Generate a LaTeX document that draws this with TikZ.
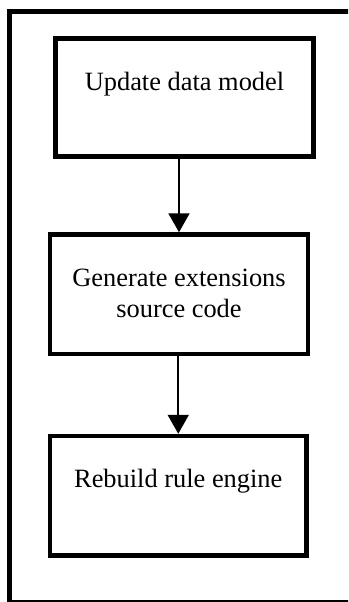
\documentclass[tikz,border=0pt]{standalone}
\usepackage{fontspec}
\setmainfont{Liberation Serif}
\usetikzlibrary{arrows.meta}
\tikzset{
  flowFrame/.style={line width=5pt},
  flowStep/.style={draw, line width=4.5pt, anchor=north, inner xsep=0pt, inner ysep=0pt, align=center, font=\fontsize{26.4}{31}\selectfont, text height=51.5pt, text depth=66.5pt, minimum width=258pt},
  flowArrow/.style={->, line width=2pt}
}

\begin{document}
\begin{tikzpicture}[x=1pt, y=-1pt, >={Triangle[width=21pt,length=19pt]}]
      \useasboundingbox (0,0) rectangle (348,602);
      % outer frame, cut at the right and bottom edges
      \begin{scope}
        \clip (0,0) rectangle (348,602);
        \draw[flowFrame] (9.5,11.5) rectangle (380,602);
      \end{scope}
      \node[flowStep] (update) at (184.5,36.25) {Update data model};
      \node[flowStep, text height=82.5pt, text depth=37pt] (generate) at (179,232.25) {Generate extensions\\source code};
      \node[flowStep, minimum width=256.5pt, text depth=68pt] (rebuild) at (178.25,433.75) {Rebuild rule engine};
      \draw[flowArrow] (update.south -| generate.north) -- (generate.north);
      \draw[flowArrow] (generate.south -| rebuild.north) -- (rebuild.north);
    \end{tikzpicture}
\end{document}
